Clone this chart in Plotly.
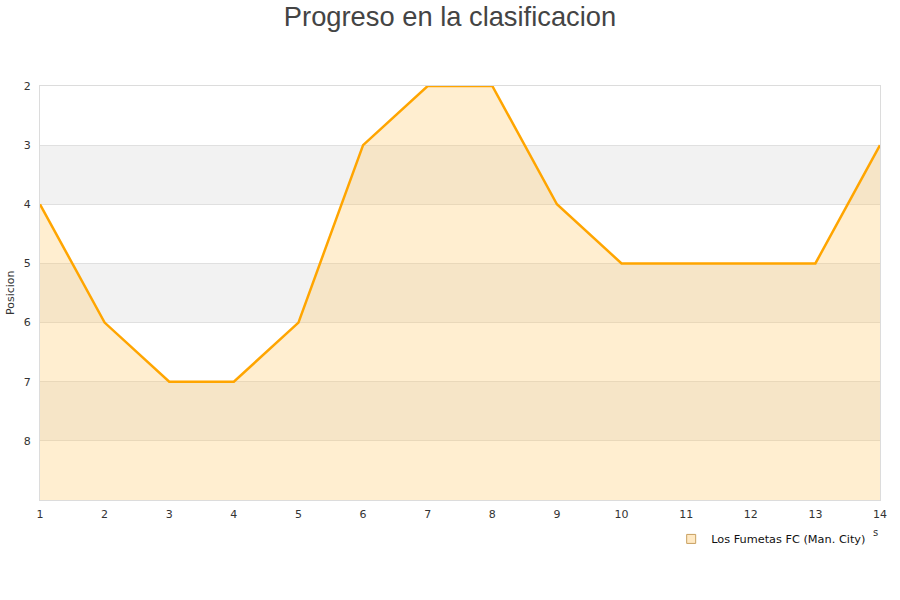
import plotly.graph_objects as go

jornadas = list(range(1, 15))
posiciones = [4, 6, 7, 7, 6, 3, 2, 2, 4, 5, 5, 5, 5, 3]
equipo = "Los Fumetas FC (Man. City)"
y_ticks = [2, 3, 4, 5, 6, 7, 8]
bands = [(3, 4), (5, 6), (7, 8)]
y_bottom = 9

fig = go.Figure()

# baseline for fill
fig.add_trace(go.Scatter(x=jornadas, y=[y_bottom] * len(jornadas), mode="lines",
                         line=dict(width=0, color="rgba(0,0,0,0)"), showlegend=False,
                         hoverinfo="skip"))
fig.add_trace(go.Scatter(x=jornadas, y=posiciones, mode="lines", fill="tonexty",
                         fillcolor="rgba(255,200,100,0.3)",
                         line=dict(color="#FFA500", width=2.5), showlegend=False,
                         name=equipo))
fig.add_trace(go.Scatter(x=[None], y=[None], mode="markers", name=equipo,
                         marker=dict(symbol="square", size=9, color="#FFE9C4",
                                     line=dict(color="#C8A060", width=1))))

shapes = []
for a, b in bands:
    shapes.append(dict(type="rect", xref="paper", yref="y", x0=0, x1=1, y0=a, y1=b,
                       fillcolor="#f2f2f2", line=dict(width=0), layer="below"))

fig.update_layout(
    width=900, height=600,
    margin=dict(l=40, r=20, t=86, b=100, autoexpand=False),
    paper_bgcolor="white", plot_bgcolor="white",
    title=dict(text="Progreso en la clasificacion", x=0.5, xanchor="center", y=0.972,
               yanchor="middle",
               font=dict(family="Liberation Sans, Arial, sans-serif", size=27.3, color="#444")),
    font=dict(family="DejaVu Sans, Verdana, sans-serif", size=11, color="#333"),
    shapes=shapes,
    xaxis=dict(range=[1, 14], tickvals=jornadas, showgrid=False, zeroline=False,
               showline=True, linecolor="#dcdcdc", linewidth=1, mirror=True,
               ticks="", ticklabelstandoff=4, automargin=False,
               tickfont=dict(size=11, color="#333")),
    yaxis=dict(range=[y_bottom, 2], tickvals=y_ticks, showgrid=True, gridcolor="#e0e0e0",
               zeroline=False, showline=True, linecolor="#dcdcdc", linewidth=1, mirror=True,
               ticks="", ticklabelstandoff=6, automargin=False,
               tickfont=dict(size=11, color="#333")),
    legend=dict(x=0.9895, xanchor="right", y=-0.094, yanchor="middle",
                bgcolor="rgba(0,0,0,0)", font=dict(size=11.3, color="#111"),
                itemwidth=30),
    annotations=[
        dict(text="Posicion", xref="paper", yref="paper", x=-0.0357, y=0.5,
             textangle=-90, showarrow=False, xanchor="center", yanchor="middle",
             font=dict(size=11, color="#333")),
        dict(text="s", xref="paper", yref="paper", x=0.9998, y=-0.097,
             showarrow=False, font=dict(size=10, color="#333")),
    ],
)

fig.write_html("out.html", config={"displayModeBar": False},
               post_script="document.body.style.margin='0';")
